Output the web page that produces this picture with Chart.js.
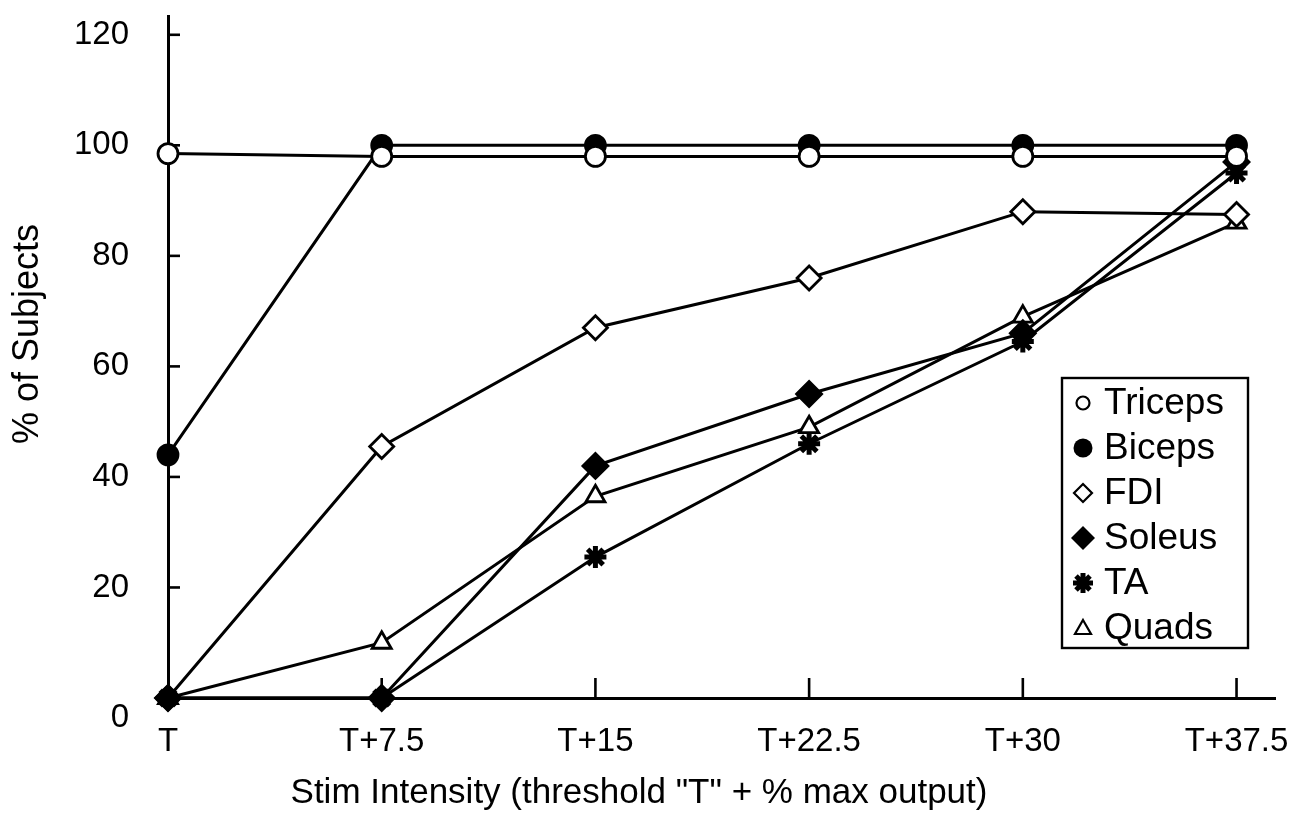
<!DOCTYPE html>
<html>
<head>
<meta charset="utf-8">
<script src="https://cdn.jsdelivr.net/npm/chart.js@4.4.1/dist/chart.umd.min.js"></script>
<style>
  html, body { margin: 0; padding: 0; background: #fff; }
  #wrap { width: 1291px; height: 819px; position: relative; }
</style>
</head>
<body>
<div id="wrap"><canvas id="c" width="1291" height="819"></canvas></div>
<script>
// ---- data ----
const categories = ["T", "T+7.5", "T+15", "T+22.5", "T+30", "T+37.5"];
const yTicks = [0, 20, 40, 60, 80, 100, 120];
const triceps = [98.5, 98, 98, 98, 98, 98];
const biceps  = [44, 100, 100, 100, 100, 100];
const fdi     = [0, 45.5, 67, 76, 88, 87.5];
const soleus  = [0, 0, 42, 55, 66, 97];
const ta      = [0, 0, 25.5, 46, 64.5, 95];
const quads   = [0, 10, 36.5, 49, 69, 86];
const xTitle = 'Stim Intensity (threshold "T" + % max output)';
const yTitle = '% of Subjects';

const FONT = '"Liberation Sans", Arial, Helvetica, sans-serif';
const toPts = arr => arr.map((v, i) => ({ x: i, y: v }));

function ds(label, values, style, fill, radius, bw, order) {
  return {
    label: label,
    data: toPts(values),
    borderColor: '#000',
    borderWidth: 3,
    pointStyle: style,
    pointRadius: radius,
    pointBackgroundColor: fill,
    pointBorderColor: '#000',
    pointBorderWidth: bw,
    tension: 0,
    fill: false,
    clip: false,
    order: order
  };
}

const datasets = [
  ds('Triceps', triceps, 'circle', '#fff', 10, 2.8, 0),
  ds('Biceps', biceps, 'circle', '#000', 10, 2.8, 1),
  ds('FDI', fdi, 'rectRot', '#fff', 12, 2.8, 4),
  ds('Soleus', soleus, 'rectRot', '#000', 12.5, 2.8, 2),
  ds('TA', ta, 'star', '#000', 11, 5, 3),
  ds('Quads', quads, 'triangle', '#fff', 11, 2.8, 5)
];

// inward tick marks drawn at the scales' own tick positions
const tickMarks = {
  id: 'tickMarks',
  beforeDatasetsDraw(chart) {
    const { ctx } = chart;
    const x = chart.scales.x, y = chart.scales.y;
    ctx.save();
    ctx.strokeStyle = '#000';
    ctx.lineWidth = 2.6;
    y.ticks.forEach(t => {
      if (t.value === 0) return;
      const py = y.getPixelForValue(t.value);
      ctx.beginPath(); ctx.moveTo(y.right, py); ctx.lineTo(y.right + 12, py); ctx.stroke();
    });
    x.ticks.forEach(t => {
      if (t.value === 0) return;
      const px = x.getPixelForValue(t.value);
      ctx.beginPath(); ctx.moveTo(px, x.top); ctx.lineTo(px, x.top - 20); ctx.stroke();
    });
    ctx.restore();
  },
  afterDraw(chart) {
    // vertical axis title
    const { ctx } = chart;
    ctx.save();
    ctx.fillStyle = '#000';
    ctx.font = '36px ' + FONT;
    ctx.textAlign = 'center';
    ctx.textBaseline = 'middle';
    ctx.translate(28, 334);
    ctx.rotate(-Math.PI / 2);
    ctx.fillText(yTitle, 0, 0);
    ctx.restore();
  }
};

// boxed legend inside the plot, built from the datasets
const boxLegend = {
  id: 'boxLegend',
  afterDraw(chart) {
    const { ctx } = chart;
    const bx = 1062, by = 378, bw = 186, bh = 270;
    ctx.save();
    ctx.fillStyle = '#fff';
    ctx.fillRect(bx, by, bw, bh);
    ctx.strokeStyle = '#000';
    ctx.lineWidth = 2.4;
    ctx.strokeRect(bx, by, bw, bh);
    ctx.font = '37px ' + FONT;
    ctx.textBaseline = 'middle';
    ctx.textAlign = 'left';
    chart.data.datasets.forEach((d, i) => {
      const cy = by + 25 + i * 45;
      const cx = 1083;
      ctx.fillStyle = '#000';
      ctx.strokeStyle = '#000';
      ctx.lineWidth = 2.2;
      ctx.beginPath();
      if (d.label === 'Triceps') {
        ctx.arc(cx, cy, 6.5, 0, Math.PI * 2); ctx.fillStyle = '#fff'; ctx.fill(); ctx.stroke();
      } else if (d.label === 'Biceps') {
        ctx.arc(cx, cy, 9.5, 0, Math.PI * 2); ctx.fill();
      } else if (d.label === 'FDI') {
        ctx.moveTo(cx, cy - 9); ctx.lineTo(cx + 9, cy); ctx.lineTo(cx, cy + 9); ctx.lineTo(cx - 9, cy); ctx.closePath();
        ctx.fillStyle = '#fff'; ctx.fill(); ctx.stroke();
      } else if (d.label === 'Soleus') {
        ctx.moveTo(cx, cy - 12); ctx.lineTo(cx + 12, cy); ctx.lineTo(cx, cy + 12); ctx.lineTo(cx - 12, cy); ctx.closePath();
        ctx.fill();
      } else if (d.label === 'TA') {
        ctx.lineWidth = 5;
        const r = 10;
        ctx.moveTo(cx - r, cy); ctx.lineTo(cx + r, cy);
        ctx.moveTo(cx, cy - r); ctx.lineTo(cx, cy + r);
        const q = r * 0.7;
        ctx.moveTo(cx - q, cy - q); ctx.lineTo(cx + q, cy + q);
        ctx.moveTo(cx - q, cy + q); ctx.lineTo(cx + q, cy - q);
        ctx.stroke();
      } else {
        ctx.moveTo(cx, cy - 8); ctx.lineTo(cx + 8, cy + 6); ctx.lineTo(cx - 8, cy + 6); ctx.closePath();
        ctx.fillStyle = '#fff'; ctx.fill(); ctx.stroke();
      }
      ctx.fillStyle = '#000';
      ctx.fillText(d.label, 1104, cy + 1);
    });
    ctx.restore();
  }
};

new Chart(document.getElementById('c'), {
  type: 'line',
  data: { datasets: datasets },
  options: {
    responsive: false,
    animation: false,
    layout: { padding: { top: 13, right: 13, left: 0, bottom: 0 } },
    plugins: {
      legend: { display: false },
      tooltip: { enabled: false },
      title: {
        display: true,
        position: 'bottom',
        text: xTitle,
        color: '#000',
        font: { family: FONT, size: 35, weight: 'normal' },
        padding: { top: 0, bottom: 5 }
      }
    },
    scales: {
      x: {
        type: 'linear',
        min: 0,
        max: 5.18,
        grid: { display: false },
        border: { display: true, color: '#000', width: 3 },
        ticks: {
          color: '#000',
          padding: 16,
          maxRotation: 0,
          font: { family: FONT, size: 33 },
          callback: v => categories[v]
        },
        afterBuildTicks: s => { s.ticks = categories.map((c, i) => ({ value: i })); },
        afterFit: s => { s.height = 74; s.paddingLeft = 0; s.paddingRight = 0; }
      },
      y: {
        type: 'linear',
        min: 0,
        max: 123.4,
        grid: { display: false },
        border: { display: true, color: '#000', width: 3 },
        ticks: {
          color: '#000',
          padding: 31,
          font: { family: FONT, size: 33 },
          callback: v => (v === 0 ? ['', '0'] : String(v))
        },
        afterBuildTicks: s => { s.ticks = yTicks.map(v => ({ value: v })); },
        afterFit: s => { s.width = 168; s.paddingTop = 0; s.paddingBottom = 0; }
      }
    }
  },
  plugins: [tickMarks, boxLegend]
});
</script>
</body>
</html>
